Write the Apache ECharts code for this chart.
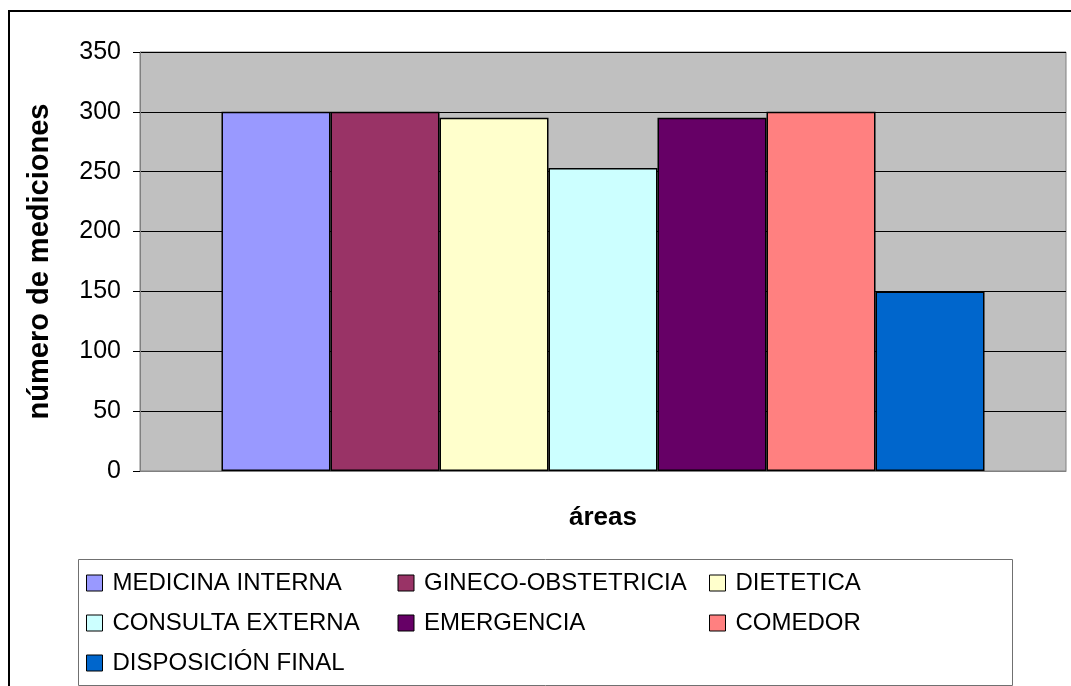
<!DOCTYPE html>
<html>
<head>
<meta charset="utf-8">
<script src="https://cdn.jsdelivr.net/npm/echarts@6/dist/echarts.min.js"></script>
<style>
html,body{margin:0;padding:0;background:#fff;}
#chart{width:1071px;height:686px;}
</style>
</head>
<body>
<div id="chart"></div>
<script>
const categories = ['áreas'];
const seriesNames = ['MEDICINA INTERNA','GINECO-OBSTETRICIA','DIETETICA','CONSULTA EXTERNA','EMERGENCIA','COMEDOR','DISPOSICIÓN FINAL'];
const seriesValues = [300, 300, 295, 253, 295, 300, 150];
const seriesColors = ['#9999FF','#993366','#FFFFCC','#CCFFFF','#660066','#FF8080','#0066CC'];
const yTicks = { min: 0, max: 350, interval: 50 };
const yTitle = 'número de mediciones';
const xTitle = 'áreas';

const FONT = '"Liberation Sans", Arial, sans-serif';
const chart = echarts.init(document.getElementById('chart'), null, { renderer: 'canvas' });

const series = seriesNames.map((name, i) => ({
  name: name,
  type: 'bar',
  data: [seriesValues[i]],
  barGap: '0%',
  barCategoryGap: '17.6%',
  itemStyle: { color: seriesColors[i], borderColor: '#000', borderWidth: 1.5 },
  emphasis: { disabled: true },
  animation: false
}));

chart.setOption({
  animation: false,
  textStyle: { fontFamily: FONT },
  graphic: [
    { type: 'rect', shape: { x: 9, y: 11, width: 1100, height: 720 }, style: { fill: 'none', stroke: '#000', lineWidth: 2 }, silent: true, z: 0 },
    { type: 'rect', shape: { x: 78.5, y: 559.5, width: 934, height: 126 }, style: { fill: 'none', stroke: '#707070', lineWidth: 1 }, silent: true, z: 0 }
  ],
  grid: {
    left: 140, top: 52, right: 5, bottom: 215,
    show: true, backgroundColor: '#C0C0C0', borderColor: '#808080', borderWidth: 1,
    containLabel: false
  },
  legend: {
    left: 86, top: 563, width: 960,
    padding: 0, itemGap: 0,
    itemWidth: 16, itemHeight: 16,
    icon: 'rect',
    selectedMode: false,
    data: seriesNames,
    itemStyle: { borderColor: '#000', borderWidth: 1 },
    textStyle: { fontFamily: FONT, fontSize: 24, color: '#000', width: 285, lineHeight: 40, padding: [0, 0, 0, 5] }
  },
  xAxis: {
    type: 'category',
    data: categories,
    name: xTitle,
    nameLocation: 'middle',
    nameGap: 34,
    nameTextStyle: { fontFamily: FONT, fontSize: 26, fontWeight: 'bold', color: '#000' },
    axisLine: { show: true, lineStyle: { color: '#808080', width: 1 } },
    axisTick: { show: false },
    axisLabel: { show: false }
  },
  yAxis: {
    type: 'value',
    min: yTicks.min, max: yTicks.max, interval: yTicks.interval,
    name: yTitle,
    nameLocation: 'middle',
    nameGap: 86,
    nameRotate: 90,
    nameTextStyle: { fontFamily: FONT, fontSize: 29, fontWeight: 'bold', color: '#000' },
    axisLine: { show: true, lineStyle: { color: '#808080', width: 1 } },
    axisTick: { show: true, inside: false, length: 7, lineStyle: { color: '#000' } },
    axisLabel: { fontFamily: FONT, fontSize: 25, color: '#000', margin: 19 },
    splitLine: { show: true, lineStyle: { color: '#000', width: 1 } }
  },
  series: series
});
</script>
</body>
</html>
